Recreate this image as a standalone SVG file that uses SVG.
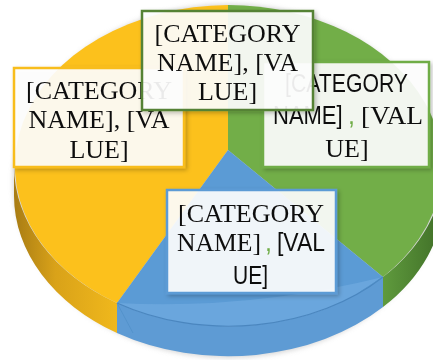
<svg xmlns="http://www.w3.org/2000/svg" width="433" height="360" viewBox="0 0 433 360">
<defs>
<style>
.serif{font-family:"Liberation Serif","Times New Roman",serif;font-size:26px;fill:#111}
.sans{font-family:"Liberation Sans",Arial,sans-serif;font-size:25px;fill:#111}
.lbl{fill:#ffffff;fill-opacity:0.9;stroke-width:2.5}
.comma{fill:#70ad47}
</style>
<filter id="sh" x="-20%" y="-20%" width="140%" height="140%">
<feDropShadow dx="2" dy="2" stdDeviation="2" flood-color="#000" flood-opacity="0.25"/>
</filter>
<filter id="pieSh" x="-10%" y="-10%" width="120%" height="120%">
<feGaussianBlur stdDeviation="2.5"/>
</filter>
<linearGradient id="ySide" x1="0" y1="0" x2="1" y2="0">
<stop offset="0" stop-color="#a87c14"/>
<stop offset="0.4" stop-color="#d9a219"/>
<stop offset="1" stop-color="#f0b81c"/>
</linearGradient>
<linearGradient id="gSide" x1="0" y1="0" x2="1" y2="0">
<stop offset="0" stop-color="#5f9a3d"/>
<stop offset="1" stop-color="#3f6e27"/>
</linearGradient>
</defs>
<rect width="433" height="360" fill="#ffffff"/>
<g id="pie">
<ellipse cx="229" cy="181" rx="216" ry="177" fill="#bbbbbb" opacity="0.6" filter="url(#pieSh)"/>
<g id="side">
<path d="M14,166 A215,161 0 0,0 117,303 L117,333 A215,161 0 0,1 14,196 Z" fill="url(#ySide)"/>
<path d="M117,303 A215,161 0 0,0 383,277 L383,307 A215,161 0 0,1 117,333 Z" fill="#5e9bd4"/>
<path d="M383,277 A215,161 0 0,0 444,166 L444,196 A215,161 0 0,1 383,307 Z" fill="url(#gSide)"/>
</g>
<g id="slice-yellow">
<path d="M228,150 L228,5 A215,161 0 0,0 117,303 Z" fill="#fcc11c"/>
</g>
<g id="slice-green">
<path d="M228,150 L228,5 A215,161 0 0,1 383,277 Z" fill="#72ae48"/>
</g>
<g id="slice-blue">
<path d="M228,150 L117,303 A215,161 0 0,0 383,277 Z" fill="#5b9bd5"/>
<path d="M117,303 Q250,310 383,277 A215,161 0 0,1 117,303 Z" fill="#6ea9de" opacity="0.8"/>
<path d="M117,303 A215,161 0 0,0 383,277" fill="none" stroke="#4a86bf" stroke-width="1.2"/>
<path d="M117,303 L133,333 M383,277 L360,292" fill="none" stroke="#4f8ec8" stroke-width="1" opacity="0.7"/>
</g>
</g>
<g id="connectors"/>
<g id="label-yellow" filter="url(#sh)">
<rect class="lbl" x="14" y="68" width="170" height="99" stroke="#f8bd1e" stroke-width="3"/>
<text class="serif" x="99" y="99" text-anchor="middle">[CATEGORY</text>
<text class="serif" x="99" y="128" text-anchor="middle">NAME], [VA</text>
<text class="serif" x="99" y="158" text-anchor="middle">LUE]</text>
</g>
<g id="label-green" filter="url(#sh)">
<rect class="lbl" x="263" y="62" width="166" height="105" stroke="#70ad47"/>
<text class="sans" x="285" y="92" textLength="123" lengthAdjust="spacingAndGlyphs">[CATEGORY</text>
<text class="sans" style="font-size:22px" transform="translate(273,124) scale(1,1.14)">NAME]</text>
<text class="sans comma" x="348" y="124">,</text>
<text class="serif" x="361" y="124" textLength="62" lengthAdjust="spacingAndGlyphs">[VAL</text>
<text class="serif" x="347" y="157" text-anchor="middle">UE]</text>
</g>
<g id="label-blue" filter="url(#sh)">
<rect class="lbl" x="167" y="190" width="169" height="103" stroke="#5b9bd5"/>
<text class="serif" x="251" y="222" text-anchor="middle">[CATEGORY</text>
<text class="serif" x="177" y="251" textLength="84" lengthAdjust="spacingAndGlyphs">NAME]</text>
<text class="sans comma" x="265" y="251">,</text>
<text class="sans" x="277" y="251" textLength="48" lengthAdjust="spacingAndGlyphs">[VAL</text>
<text class="sans" x="233" y="284" textLength="35" lengthAdjust="spacingAndGlyphs">UE]</text>
</g>
<g id="label-top" filter="url(#sh)">
<rect class="lbl" x="142" y="11" width="171" height="99" stroke="#548235" stroke-width="3"/>
<text class="serif" x="227.5" y="42" text-anchor="middle">[CATEGORY</text>
<text class="serif" x="227.5" y="71" text-anchor="middle">NAME], [VA</text>
<text class="serif" x="227.5" y="100" text-anchor="middle">LUE]</text>
</g>
</svg>
